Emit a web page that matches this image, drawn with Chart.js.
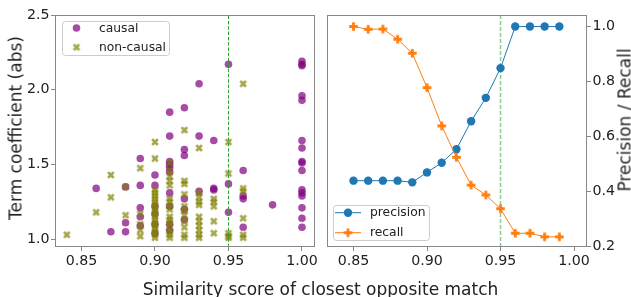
<!DOCTYPE html>
<html><head><meta charset="utf-8">
<script src="https://cdn.jsdelivr.net/npm/chart.js@4.4.1/dist/chart.umd.min.js"></script>
<style>
html,body{margin:0;padding:0;background:#fff;}
#wrap{position:relative;width:631px;height:297px;overflow:hidden;font-family:"DejaVu Sans",sans-serif;color:#222;}
#c1{position:absolute;left:0;top:0;}
#c2{position:absolute;left:320px;top:0;}
.t{position:absolute;font-size:17px;line-height:17px;white-space:nowrap;}
#xtitle{left:0;width:641px;top:280.6px;text-align:center;}
.rot{transform:translate(-50%,-50%) rotate(-90deg);}
#ytitle1{left:16.4px;top:128px;}
#ytitle2{left:625px;top:120px;}
</style>
</head><body>
<div id="wrap">
<canvas id="c1" width="320" height="297" style="width:320px;height:297px"></canvas>
<canvas id="c2" width="311" height="297" style="width:311px;height:297px"></canvas>
<div class="t" id="xtitle">Similarity score of closest opposite match</div>
<div class="t rot" id="ytitle1">Term coefficient (abs)</div>
<div class="t rot" id="ytitle2">Precision / Recall</div>
</div>
<script>
// ---------- data ----------
const causalX = [
0.86,
0.87,
0.88,0.88,0.88,
0.89,0.89,0.89,0.89,0.89,
0.90,0.90,0.90,0.90,0.90,0.90,
0.91,0.91,0.91,0.91,0.91,0.91,0.91,0.91,0.91,0.91,
0.92,0.92,0.92,0.92,0.92,0.92,
0.93,0.93,0.93,
0.94,0.94,0.94,
0.95,0.95,0.95,
0.96,0.96,0.96,0.96,
0.98,
1.00,1.00,1.00,1.00,1.00,1.00,1.00,1.00,1.00,1.00,1.00,1.00,1.00,1.00,1.00,1.00
];
const causalY = [
1.34,
1.05,
1.35,1.11,1.05,
1.54,1.36,1.21,1.15,1.09,
1.43,1.36,1.22,1.17,1.10,1.04,
1.85,1.69,1.52,1.50,1.48,1.45,1.31,1.22,1.10,1.06,
1.88,1.60,1.56,1.27,1.20,1.13,
2.04,1.69,1.32,
1.66,1.34,1.33,
2.17,1.37,1.18,
1.46,1.29,1.27,1.08,
1.23,
2.19,2.17,2.16,1.96,1.93,1.66,1.61,1.52,1.51,1.46,1.33,1.31,1.29,1.21,1.14,1.08
];
const nonCausalX = [
0.84,
0.86,
0.87,0.87,
0.88,0.88,
0.89,0.89,0.89,0.89,0.89,
0.90,0.90,0.90,0.90,0.90,0.90,0.90,0.90,0.90,0.90,0.90,0.90,0.90,0.90,0.90,0.90,0.90,0.90,0.90,
0.91,0.91,0.91,0.91,0.91,0.91,0.91,0.91,0.91,0.91,0.91,0.91,0.91,0.91,0.91,0.91,
0.92,0.92,0.92,0.92,0.92,0.92,0.92,0.92,0.92,0.92,0.92,
0.93,0.93,0.93,0.93,0.93,0.93,0.93,0.93,0.93,0.93,0.93,
0.94,0.94,0.94,0.94,0.94,
0.95,0.95,0.95,0.95,0.95,
0.96,0.96,0.96,0.96,0.96,0.96
];
const nonCausalY = [
1.03,
1.18,
1.43,1.28,
1.35,1.16,
1.475,1.17,1.10,1.06,1.02,
1.65,1.54,1.33,1.31,1.29,1.27,1.25,1.23,1.21,1.19,1.17,1.15,1.13,1.11,1.09,1.07,1.05,1.03,1.01,
1.51,1.46,1.42,1.39,1.36,1.27,1.25,1.22,1.20,1.15,1.13,1.11,1.08,1.05,1.03,1.01,
1.73,1.39,1.37,1.30,1.22,1.19,1.16,1.12,1.08,1.03,1.01,
1.61,1.31,1.28,1.25,1.23,1.15,1.12,1.09,1.06,1.03,1.01,
1.27,1.25,1.22,1.12,1.04,
1.65,1.44,1.04,1.02,1.01,
2.04,1.34,1.32,1.14,1.03,1.01
];
const thresholdX = 0.95;
const scoreX = [0.85,0.86,0.87,0.88,0.89,0.90,0.91,0.92,0.93,0.94,0.95,0.96,0.97,0.98,0.99];
const precision = [0.44,0.44,0.44,0.44,0.434,0.47,0.505,0.554,0.656,0.741,0.849,1.0,1.0,1.0,1.0];
const recall = [1.0,0.99,0.991,0.954,0.903,0.778,0.639,0.525,0.424,0.388,0.338,0.249,0.249,0.236,0.236];
const xTicks = [0.85,0.90,0.95,1.00];
const leftYTicks = [1.0,1.5,2.0,2.5];
const rightYTicks = [0.2,0.4,0.6,0.8,1.0];
const xRange = [0.832, 1.0088];
const leftYRange = [0.948, 2.5];
const rightYRange = [0.199, 1.042];

// ---------- styling helpers ----------
Chart.defaults.font.family = "'DejaVu Sans', sans-serif";
Chart.defaults.color = '#222';
const PURPLE = 'rgba(128,0,128,0.7)';
const OLIVE = 'rgba(128,128,0,0.7)';
const BLUE = '#1f77b4';
const ORANGE = '#ff7f0e';

function makeMarker(kind, size, color){
  const S = Math.ceil(size) + 2;
  const c = document.createElement('canvas');
  c.width = S; c.height = S;
  const g = c.getContext('2d');
  g.translate(S/2, S/2);
  let pts, k;
  if (kind === 'X') {
    pts = [[-1,-2],[0,-1],[1,-2],[2,-1],[1,0],[2,1],[1,2],[0,1],[-1,2],[-2,1],[-1,0],[-2,-1]];
    k = size/4;
  } else {
    pts = [[-1,-3],[1,-3],[1,-1],[3,-1],[3,1],[1,1],[1,3],[-1,3],[-1,1],[-3,1],[-3,-1],[-1,-1]];
    k = size/6;
  }
  g.beginPath();
  pts.forEach((p,i)=>{ if(i) g.lineTo(p[0]*k,p[1]*k); else g.moveTo(p[0]*k,p[1]*k); });
  g.closePath();
  g.fillStyle = color; g.fill();
  return c;
}
const xImg = makeMarker('X', 7.6, OLIVE);
const plusImg = makeMarker('P', 8.6, ORANGE);

const framePlugin = {
  id: 'frame',
  afterDatasetsDraw(chart){
    const a = chart.chartArea, ctx = chart.ctx;
    ctx.save();
    ctx.strokeStyle = '#888'; ctx.lineWidth = 1;
    ctx.strokeRect(Math.round(a.left)+0.5, Math.round(a.top)+0.5, Math.round(a.right-a.left)-1, Math.round(a.bottom-a.top)-1);
    ctx.restore();
  }
};
function rr(ctx,x,y,w,h,r){
  ctx.beginPath();
  ctx.moveTo(x+r,y); ctx.lineTo(x+w-r,y); ctx.arcTo(x+w,y,x+w,y+r,r);
  ctx.lineTo(x+w,y+h-r); ctx.arcTo(x+w,y+h,x+w-r,y+h,r);
  ctx.lineTo(x+r,y+h); ctx.arcTo(x,y+h,x,y+h-r,r);
  ctx.lineTo(x,y+r); ctx.arcTo(x,y,x+r,y,r); ctx.closePath();
}
const legendPlugin = {
  id: 'boxLegend',
  afterDraw(chart, args, opts){
    if (!opts || !opts.box) return;
    const ctx = chart.ctx, b = opts.box;
    ctx.save();
    rr(ctx, b.x+0.5, b.y+0.5, b.w, b.h, 3);
    ctx.fillStyle = 'rgba(255,255,255,0.8)'; ctx.fill();
    ctx.strokeStyle = '#cccccc'; ctx.lineWidth = 1; ctx.stroke();
    ctx.font = "12.3px 'DejaVu Sans'"; ctx.textBaseline = 'middle';
    opts.items.forEach(it=>{
      const ds = chart.data.datasets[it.ds];
      if (it.line) {
        ctx.beginPath(); ctx.moveTo(it.line[0], it.y); ctx.lineTo(it.line[1], it.y);
        ctx.strokeStyle = ds.borderColor; ctx.lineWidth = 1; ctx.stroke();
      }
      const ps = ds.pointStyle;
      if (ps && typeof ps === 'object') {
        ctx.drawImage(ps, it.mx - ps.width/2, it.y - ps.height/2);
      } else {
        ctx.beginPath(); ctx.arc(it.mx, it.y, ds.pointRadius, 0, Math.PI*2);
        ctx.fillStyle = ds.backgroundColor; ctx.fill();
      }
      ctx.fillStyle = '#222';
      ctx.fillText(ds.label, it.tx, it.y + 0.5);
    });
    ctx.restore();
  }
};

function xScale(){
  return {
    type:'linear', min:xRange[0], max:xRange[1],
    afterBuildTicks: s => { s.ticks = xTicks.map(v=>({value:v})); },
    ticks:{ callback: v => Number(v).toFixed(2), font:{size:14.2}, color:'#222', padding:2, maxRotation:0, autoSkip:false },
    grid:{ drawOnChartArea:false, tickLength:4, color:'#888' },
    border:{ display:false },
    afterFit: s => { s.height = 50; }
  };
}
function yScale(pos, range, tks, width){
  return {
    type:'linear', position:pos, min:range[0], max:range[1],
    afterBuildTicks: s => { s.ticks = tks.map(v=>({value:v})); },
    ticks:{ callback: v => Number(v).toFixed(1), font:{size:14.2}, color:'#222', padding:1.5, autoSkip:false },
    grid:{ drawOnChartArea:false, tickLength:4, color:'#888' },
    border:{ display:false },
    afterFit: s => { s.width = width; }
  };
}

// ---------- left chart ----------
new Chart(document.getElementById('c1'), {
  type:'scatter',
  data:{ datasets:[
    { label:'causal', data: causalX.map((x,i)=>({x, y:causalY[i]})),
      pointStyle:'circle', pointRadius:3.8, backgroundColor:PURPLE, borderWidth:0, order:2 },
    { label:'non-causal', data: nonCausalX.map((x,i)=>({x, y:nonCausalY[i]})),
      pointStyle:xImg, pointRadius:4, backgroundColor:OLIVE, borderWidth:0, order:1 },
    { label:'threshold', data:[{x:thresholdX, y:leftYRange[0]},{x:thresholdX, y:leftYRange[1]}],
      showLine:true, pointRadius:0, borderColor:'#2ca02c', borderWidth:1, borderDash:[3.5,1.8], order:0 }
  ]},
  options:{
    responsive:false, animation:false, events:[],
    layout:{ padding:{ top:15, right:4.3, left:0, bottom:0 } },
    plugins:{ legend:{display:false}, tooltip:{enabled:false},
      boxLegend:{ box:{x:62, y:21, w:107, h:34},
        items:[ {ds:0, y:28, mx:76.5, tx:99}, {ds:1, y:47.3, mx:76.5, tx:99} ] } },
    scales:{ x: xScale(), y: yScale('left', leftYRange, leftYTicks, 55) }
  },
  plugins:[framePlugin, legendPlugin]
});

// ---------- right chart ----------
new Chart(document.getElementById('c2'), {
  type:'scatter',
  data:{ datasets:[
    { label:'precision', data: scoreX.map((x,i)=>({x, y:precision[i]})), showLine:true,
      borderColor:BLUE, borderWidth:1, pointStyle:'circle', pointRadius:4.2, backgroundColor:BLUE, pointBorderWidth:0, order:2 },
    { label:'recall', data: scoreX.map((x,i)=>({x, y:recall[i]})), showLine:true,
      borderColor:ORANGE, borderWidth:1, pointStyle:plusImg, pointRadius:4.5, backgroundColor:ORANGE, pointBorderWidth:0, order:1 },
    { label:'threshold', data:[{x:thresholdX, y:rightYRange[0]},{x:thresholdX, y:rightYRange[1]}],
      showLine:true, pointRadius:0, borderColor:'rgba(44,160,44,0.55)', borderWidth:1.5, borderDash:[4,2], order:3 }
  ]},
  options:{
    responsive:false, animation:false, events:[],
    layout:{ padding:{ top:15, right:0, left:7, bottom:0 } },
    plugins:{ legend:{display:false}, tooltip:{enabled:false},
      boxLegend:{ box:{x:13, y:205, w:96, h:35},
        items:[ {ds:0, y:212.7, mx:28, tx:50, line:[15,41]}, {ds:1, y:232.7, mx:28, tx:50, line:[15,41]} ] } },
    scales:{ x: xScale(), y: yScale('right', rightYRange, rightYTicks, 44) }
  },
  plugins:[framePlugin, legendPlugin]
});
</script>
</body></html>
